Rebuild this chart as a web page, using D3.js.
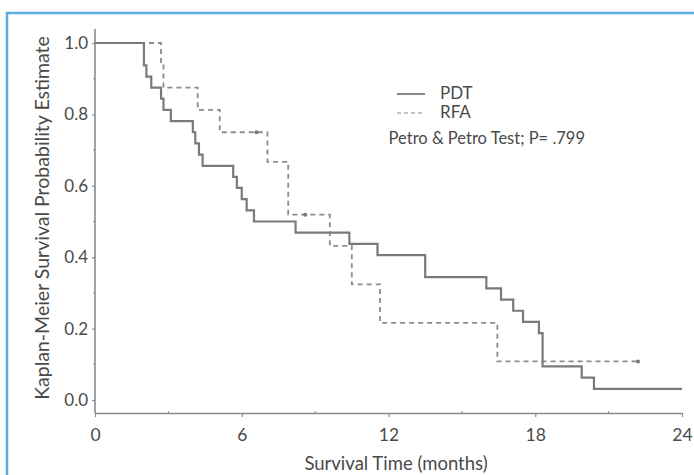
<!DOCTYPE html>
<html>
<head>
<meta charset="utf-8">
<script src="https://cdn.jsdelivr.net/npm/d3@7"></script>
<style>
  html, body { margin: 0; padding: 0; background: #fff; overflow: hidden; }
  svg { display: block; }
  text { font-family: "Lato", "Open Sans", sans-serif; fill: #4a4a4a; }
</style>
</head>
<body>
<svg id="chart" width="694" height="475"></svg>
<script>
// ---- data ----
const pdtTimes = [0, 2.0, 2.1, 2.3, 2.7, 2.8, 3.1, 4.0, 4.1, 4.25, 4.4, 5.65, 5.8, 6.0, 6.2, 6.5, 8.2, 10.4, 11.55, 13.5, 16.0, 16.6, 17.1, 17.5, 18.15, 18.3, 19.9, 20.4, 24];
const pdtSurv  = [1, 0.9375, 0.906, 0.875, 0.844, 0.8125, 0.781, 0.75, 0.719, 0.6875, 0.656, 0.625, 0.594, 0.5625, 0.531, 0.5, 0.469, 0.4375, 0.406, 0.344, 0.3125, 0.281, 0.25, 0.219, 0.1875, 0.094, 0.0625, 0.031, 0.031];
const rfaTimes = [0, 2.7, 2.8, 4.2, 5.1, 7.05, 7.9, 9.6, 10.5, 11.65, 16.45, 22.2];
const rfaSurv  = [1, 0.9375, 0.875, 0.8125, 0.75, 0.667, 0.519, 0.432, 0.324, 0.216, 0.108, 0.108];
const rfaCensorTimes = [6.6, 8.6, 22.2];
const rfaCensorSurv  = [0.75, 0.519, 0.108];
const xTicks = [0, 6, 12, 18, 24];
const xMinorTicks = [3, 9, 15, 21];
const yTicks = [0, 0.2, 0.4, 0.6, 0.8, 1.0];
const yMinorTicks = [0.1, 0.3, 0.5, 0.7, 0.9];
const seriesNames = ["PDT", "RFA"];
const testLabel = "Petro & Petro Test; P= .799";
const xTitle = "Survival Time (months)";
const yTitle = "Kaplan-Meier Survival Probability Estimate";

// ---- drawing ----
const svg = d3.select("#chart");
const axisColor = "#8a8a8a";

// frame
svg.append("rect").attr("x", 7).attr("y", 13).attr("width", 720).attr("height", 500)
  .attr("fill", "none").attr("stroke", "#5aaddc").attr("stroke-width", 2.5);

const x = d3.scaleLinear().domain([0, 24]).range([95, 682]);
const y = d3.scaleLinear().domain([0, 1]).range([400, 43]);
const axisY = 413;

// x axis
const gx = svg.append("g").attr("transform", `translate(0,${axisY})`)
  .call(d3.axisBottom(x).tickValues(xTicks).tickSize(4).tickSizeOuter(0).tickPadding(12).tickFormat(d3.format("d")));
gx.select(".domain").attr("stroke", axisColor).attr("stroke-width", 1.6);
gx.selectAll(".tick line").attr("stroke", axisColor).attr("stroke-width", 1.2);
gx.selectAll(".tick text").style("font-size", "17.5px").attr("fill", "#4a4a4a").style("font-family", "Lato, sans-serif");
gx.selectAll(".minor").data(xMinorTicks).enter().append("line")
  .attr("x1", d => x(d)).attr("x2", d => x(d)).attr("y1", 0).attr("y2", -2)
  .attr("stroke", axisColor).attr("stroke-width", 1);

// y axis
svg.append("line").attr("x1", 95).attr("x2", 95).attr("y1", 29).attr("y2", axisY)
  .attr("stroke", axisColor).attr("stroke-width", 1.6);
const gy = svg.append("g").attr("transform", "translate(95,0)")
  .call(d3.axisLeft(y).tickValues(yTicks).tickSize(3).tickPadding(4).tickFormat(d3.format(".1f")));
gy.select(".domain").remove();
gy.selectAll(".tick line").attr("stroke", axisColor).attr("stroke-width", 1.2);
gy.selectAll(".tick text").style("font-size", "17px").attr("fill", "#4a4a4a").style("font-family", "Lato, sans-serif");
gy.selectAll(".minor").data(yMinorTicks).enter().append("line")
  .attr("x1", 0).attr("x2", -2).attr("y1", d => y(d)).attr("y2", d => y(d))
  .attr("stroke", axisColor).attr("stroke-width", 1);

// titles
svg.append("text").attr("x", 396).attr("y", 470).attr("text-anchor", "middle")
  .style("font-size", "18.5px").text(xTitle);
svg.append("text").attr("transform", "translate(49,218) rotate(-90)").attr("text-anchor", "middle")
  .style("font-size", "19.5px").text(yTitle);

// curves
const line = d3.line().x(d => x(d[0])).y(d => y(d[1])).curve(d3.curveStepAfter);
const pdt = pdtTimes.map((t, i) => [t, pdtSurv[i]]);
const rfa = rfaTimes.map((t, i) => [t, rfaSurv[i]]);

svg.append("path").datum(rfa).attr("d", line).attr("fill", "none")
  .attr("stroke", "#8c8c8c").attr("stroke-width", 1.8).attr("stroke-dasharray", "5,4");
svg.append("path").datum(pdt).attr("d", line).attr("fill", "none")
  .attr("stroke", "#7a7a7a").attr("stroke-width", 2.2);

svg.selectAll(".censor").data(rfaCensorTimes.map((t, i) => [t, rfaCensorSurv[i]])).enter()
  .append("circle").attr("cx", d => x(d[0])).attr("cy", d => y(d[1])).attr("r", 2)
  .attr("fill", "#777");

// legend
const lg = svg.append("g");
lg.append("line").attr("x1", 397).attr("x2", 425).attr("y1", 94).attr("y2", 94)
  .attr("stroke", "#555").attr("stroke-width", 1.4);
lg.append("line").attr("x1", 397).attr("x2", 425).attr("y1", 113).attr("y2", 113)
  .attr("stroke", "#888").attr("stroke-width", 1.2).attr("stroke-dasharray", "4,3");
lg.append("text").attr("x", 440).attr("y", 99).style("font-size", "17px").text(seriesNames[0]);
lg.append("text").attr("x", 440).attr("y", 118).style("font-size", "17px").text(seriesNames[1]);
lg.append("text").attr("x", 585).attr("y", 144).attr("text-anchor", "end").style("font-size", "16.5px").text(testLabel);
</script>
</body>
</html>
